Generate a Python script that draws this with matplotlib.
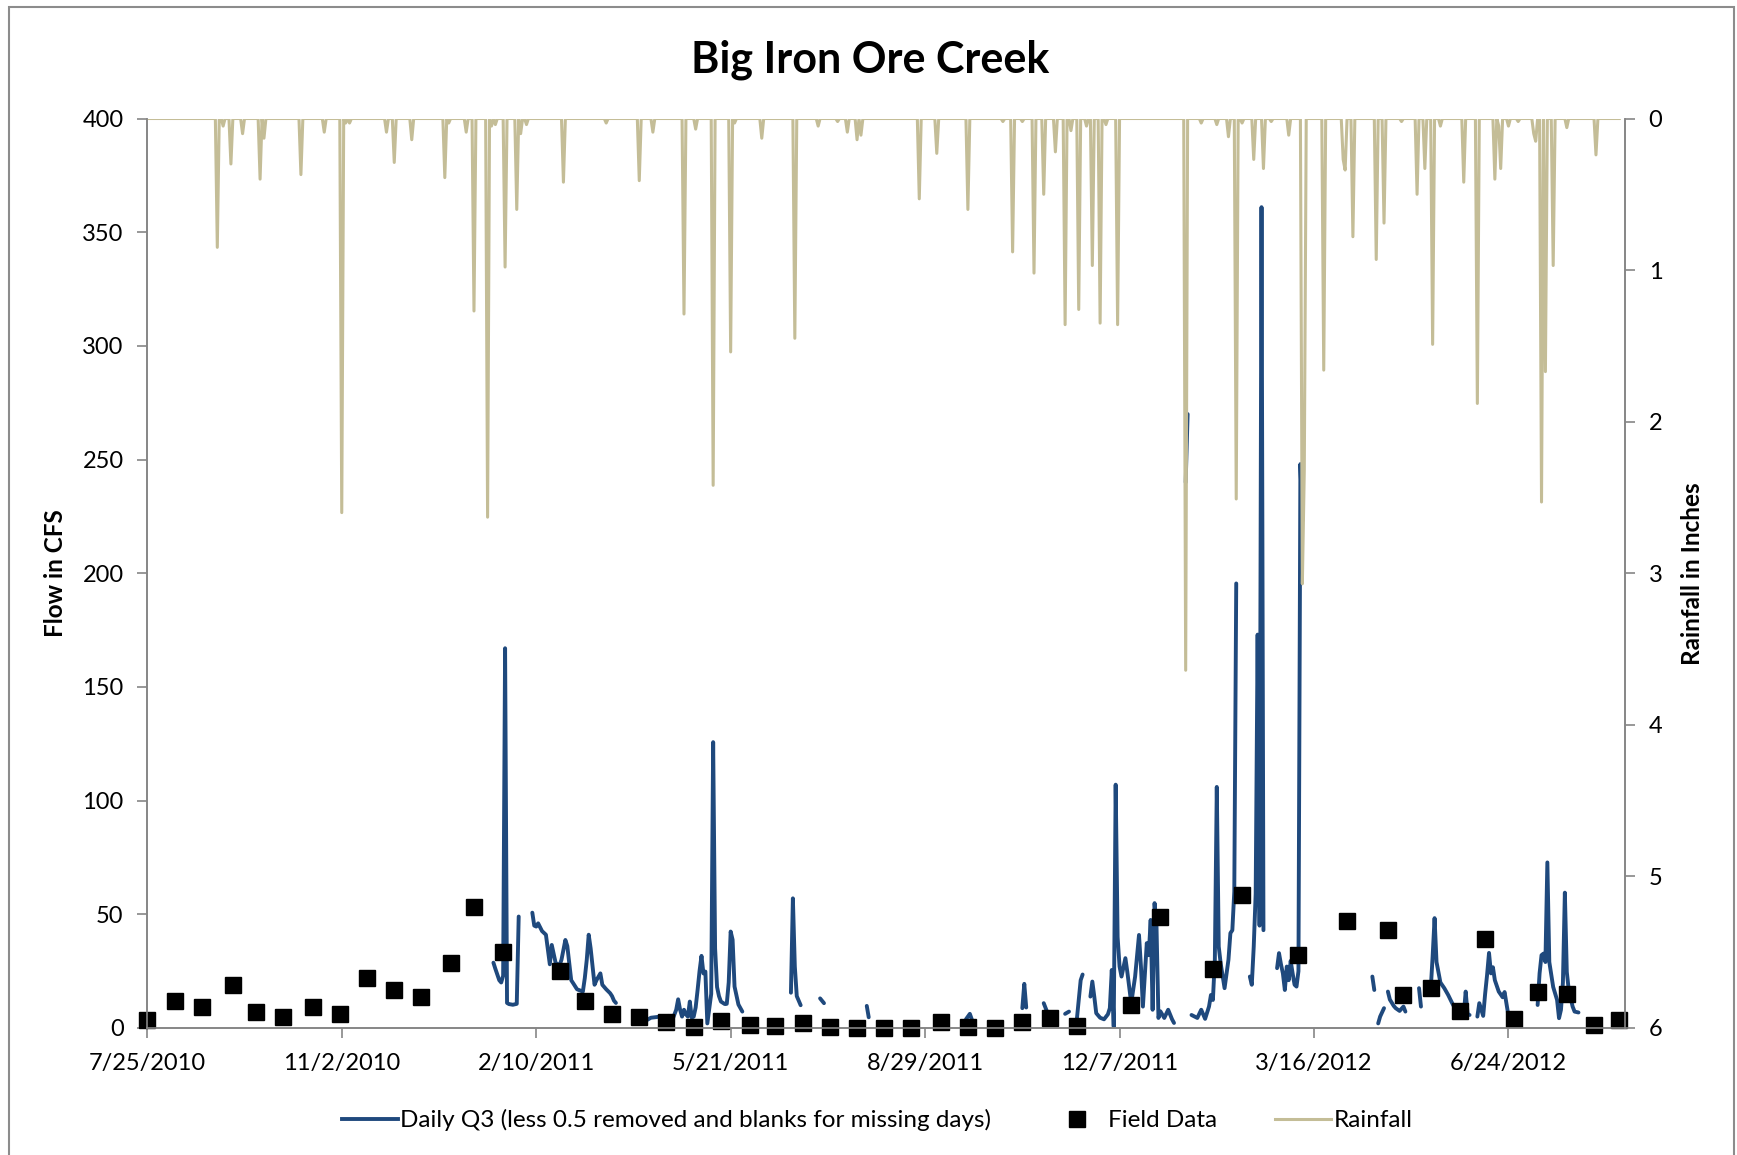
import numpy as np
import pandas as pd
import matplotlib
matplotlib.use('Agg')
import matplotlib.pyplot as plt
from matplotlib.lines import Line2D
from matplotlib.patches import Rectangle

plt.rcParams['font.family'] = ['Lato', 'DejaVu Sans']

start = pd.Timestamp('2010-07-25')
x_end = pd.Timestamp('2012-08-23')
xtick_labels = ['7/25/2010', '11/2/2010', '2/10/2011', '5/21/2011',
                '8/29/2011', '12/7/2011', '3/16/2012', '6/24/2012']
flow_ticks = [0, 50, 100, 150, 200, 250, 300, 350, 400]
rain_ticks = [0, 1, 2, 3, 4, 5, 6]

# daily Q3, days since 7/25/2010; None = blank (missing days)
flow_days = [
    178, 179, 181, 182, 183, 184, 185, 186, 188, 190, 191, None,
    198, 199, 200, 201, 203, 205, 207, 208, 210, 212, 213, 215, 216, 218, 219,
    221, 224, 225, 226, 227, 228, 229, 230, 231, 233, 234, 236, 238, 239, 240, 241, None,
    257, 259, 261, 264, 268, 270, 272, 273, 274, 275, 276, 277, 278, 279, 280,
    281, 282, 283, 284, 285, 286, 287, 288, 290, 291, 292, 293, 294, 295, 297,
    298, 299, 300, 301, 302, 304, 306, None,
    331, 332, 333, 334, 336, None,
    346, 348, None,
    370, 371, None,
    421, 423, 424, None,
    450, 451, 452, None,
    461, 463, None,
    472, 474, None,
    478, 480, 481, None,
    485, 486, 487, 488, 490, 492, 494, 495, 496, 497, 498, 499, 500, 501, 503,
    504, 506, 508, 510, 511, 512, 514, 515, 516, 517, 518, 519, 520, 521, 523,
    525, 527, 528, None,
    534, 535, None,
    537, 540, 542, 544, 546, 547, 548, 549, 550, 551, 552, 554, 556, 557, 558,
    559, 560, None,
    567, 568, 569, 570, 571, 572, 573, 574, None,
    581, 582, 583, 584, 585, 586, 587, 588, 589, 590, 591, 592, 593, 594, None,
    630, 631, None,
    633, 634, 636, None,
    638, 639, 641, 642, 644, 646, 647, None,
    654, 655, None,
    659, 660, 661, 662, 663, 665, 667, 669, 671, 672, 674, 676, 677, 678, 679, 680, None,
    684, 685, 687, 688, 689, 690, 691, 692, 693, 695, 697, 698, 700, None,
    715, 716, 717, 718, 719, 720, 721, 723, 725, 726, 727, 728, 729, 730, 731,
    733, 734, 736,
]
flow_cfs = [
    28.7, 26, 21, 20, 23, 167, 11, 10.5, 10.2, 10.6, 49, None,
    50.7, 45, 44.6, 46, 42.6, 41, 28, 36.5, 28.6, 27.5, 30, 38.7, 36, 21, 19.7,
    17, 16, 22, 30, 41, 35, 27, 19, 21, 24, 19, 17, 15.3, 14, 12, 11, None,
    3.5, 4.5, 4.7, 5, 5.3, 3.5, 8, 12.6, 8, 5, 8, 6, 5, 11.6, 4.5,
    5, 9, 16.7, 25, 31.7, 24, 24.8, 2, 15, 125.7, 35, 18, 14, 11.6, 10.5,
    10.6, 20, 42.4, 38.8, 18.2, 10.3, 7.2, None,
    15.5, 57, 27, 14, 10, None,
    13, 10.9, None,
    9.7, 4.7, None,
    3.8, 6.2, 3.8, None,
    8.7, 19.4, 9, None,
    10.9, 6.5, None,
    6.2, 7.2, None,
    3.5, 21, 23.5, None,
    13.8, 20.4, 13.8, 6.5, 4.5, 3.8, 6, 8.7, 25.5, 0.6, 107, 40, 27, 22.6, 30.7,
    24.6, 10.9, 22.6, 40.9, 27, 9.4, 37.3, 32, 47.5, 8, 54.9, 44.6, 4.4, 7.3, 4.4,
    8, 3.8, 2.2, None,
    240, 270, None,
    5.7, 4.4, 8, 4, 9.4, 14.5, 12.3, 30, 106, 35.8, 28.4, 17.5, 30, 41.7, 43,
    60, 195.5, None,
    22.6, 19, 35.8, 59, 173, 45, 361, 43, None,
    26.3, 32.9, 28, 24, 16.7, 27, 21, 29.5, 24, 19, 18.2, 25, 248, 223, None,
    22.6, 16.7, None,
    2, 5, 8.7, None,
    16, 12.5, 9.7, 8.7, 7.5, 9.4, 7.2, None,
    17.5, 9.4, None,
    15, 16.7, 31.4, 48.3, 29, 20, 17.5, 14.5, 11, 9.4, 10, 6, 5.7, 16, 6, 5.7, None,
    5, 10.9, 5.3, 15, 23.3, 33, 24, 26.7, 21, 16, 13.5, 15.8, 5.3, None,
    10.1, 24, 32, 32.7, 29, 72.8, 29, 18, 12.3, 4.3, 8, 20, 59.5, 24.6, 16.7,
    9.4, 7.2, 6.8,
]

field_days = [0, 14, 28, 44, 56, 70, 85, 99, 113, 127,
              141, 156, 168, 183, 212, 225, 239, 253, 267, 281,
              295, 310, 323, 337, 351, 365, 379, 393, 408, 422,
              436, 450, 464, 478, 506, 521, 548, 563, 592, 617,
              638, 646, 660, 675, 688, 703, 715, 730, 744, 757]
field_cfs = [3.4, 12, 9, 19, 7, 5, 9, 6, 22, 16.5,
             13.6, 28.7, 53, 33.6, 25, 11.7, 6, 5, 2.4, 0.5,
             3, 1.5, 1, 2, 0.5, 0, 0, 0, 2.4, 0.5,
             0, 2.4, 4.4, 1, 10, 48.7, 26, 58.5, 32, 47,
             43, 14.6, 17.5, 7.3, 39, 3.9, 16, 15, 1.5, 3.4]

# daily rainfall record runs to day 757; days not listed had no rain
rain_last_day = 757
rain_days = [36, 39, 43, 49, 58, 60, 79, 91, 100, 102,
             104, 123, 127, 136, 153, 155, 164, 168, 175, 177,
             179, 184, 190, 192, 195, 214, 236, 253, 260, 276,
             282, 291, 300, 302, 316, 333, 345, 355, 360, 365,
             367, 397, 406, 422, 440, 445, 450, 456, 461, 467,
             472, 475, 479, 483, 486, 490, 493, 499, 534, 542,
             550, 556, 560, 563, 569, 574, 578, 587, 594, 595,
             605, 615, 616, 620, 632, 636, 645, 653, 657, 661,
             665, 677, 684, 693, 695, 696, 700, 705, 713, 714,
             717, 719, 723, 730, 745]
rain_in = [0.85, 0.05, 0.30, 0.10, 0.40, 0.13, 0.37, 0.09, 2.60, 0.03,
           0.03, 0.09, 0.29, 0.14, 0.39, 0.03, 0.09, 1.27, 2.63, 0.05,
           0.04, 0.98, 0.60, 0.10, 0.04, 0.42, 0.03, 0.41, 0.09, 1.29,
           0.07, 2.42, 1.54, 0.03, 0.13, 1.45, 0.05, 0.02, 0.09, 0.14,
           0.11, 0.53, 0.23, 0.60, 0.02, 0.88, 0.02, 1.02, 0.50, 0.22,
           1.36, 0.08, 1.26, 0.05, 0.97, 1.35, 0.04, 1.36, 3.64, 0.03,
           0.04, 0.12, 2.51, 0.03, 0.27, 0.33, 0.02, 0.11, 3.07, 2.32,
           1.66, 0.27, 0.34, 0.78, 0.93, 0.69, 0.02, 0.50, 0.33, 1.49,
           0.05, 0.42, 1.88, 0.40, 0.05, 0.33, 0.05, 0.02, 0.10, 0.15,
           2.53, 1.67, 0.97, 0.06, 0.24]

BLUE = '#1F497D'
TAN = '#C4BD97'
AXIS = '#868686'


def to_dates(days):
    return start + pd.to_timedelta(np.asarray(days, dtype=float), unit='D')


# build plotting arrays (None -> break in the line)
fd, fq = [], []
last = flow_days[0]
for d, q in zip(flow_days, flow_cfs):
    if d is None:
        fd.append(last)
        fq.append(np.nan)
    else:
        fd.append(d)
        fq.append(q)
        last = d
flow_x = to_dates(fd)
flow_y = np.array(fq, dtype=float)

rain_all = np.zeros(rain_last_day + 1)
rain_all[rain_days] = rain_in
rain_x = to_dates(np.arange(rain_last_day + 1))

fig = plt.figure(figsize=(17.37, 11.55), dpi=100)
ax = fig.add_axes([0.0848, 0.110, 0.8508, 0.7874])
ax2 = ax.twinx()

ax.plot(flow_x, flow_y, color=BLUE, lw=2.8, solid_capstyle='round')
ax.plot(to_dates(field_days), field_cfs, 's', color='black', ms=12,
        clip_on=False, zorder=5)
ax2.plot(rain_x, rain_all, color=TAN, lw=2.2)

ax.set_xlim(start, x_end)
ax.set_ylim(0, 400)
ax2.set_ylim(6, 0)

xt = pd.to_datetime(xtick_labels, format='%m/%d/%Y')
ax.set_xticks(xt)
ax.set_xticklabels(xtick_labels)
ax.set_yticks(flow_ticks)
ax.set_yticklabels([str(v) for v in flow_ticks])
ax2.set_yticks(rain_ticks)
ax2.set_yticklabels([str(v) for v in rain_ticks])

for a in (ax, ax2):
    for s in a.spines.values():
        s.set_color(AXIS)
        s.set_linewidth(1.2)
    a.spines['top'].set_visible(False)
    a.tick_params(colors=AXIS, labelcolor='black', labelsize=17, width=1.2)
ax.tick_params(axis='y', length=7, pad=10)
ax.tick_params(axis='x', length=7, pad=11)
ax2.tick_params(axis='y', length=7, pad=10)

ax.set_ylabel('Flow in CFS', fontsize=17.5, fontweight='bold')
ax.yaxis.set_label_coords(-0.054, 0.5)
ax2.set_ylabel('Rainfall in Inches', fontsize=17.5, fontweight='bold',
               rotation=90)
ax2.yaxis.set_label_coords(1.038, 0.5)

fig.text(0.501, 0.948, 'Big Iron Ore Creek', ha='center', va='center',
         fontsize=31, fontweight='bold')

handles = [
    Line2D([], [], color=BLUE, lw=2.8),
    Line2D([], [], ls='none', marker='s', color='black', ms=12),
    Line2D([], [], color=TAN, lw=2.2),
]
labels = ['Daily Q3 (less 0.5 removed and blanks for missing days)',
          'Field Data', 'Rainfall']
fig.legend(handles, labels, loc='center', bbox_to_anchor=(0.505, 0.030),
           ncol=3, frameon=False, fontsize=17.5, handlelength=2.3,
           handletextpad=0.1, columnspacing=2.4)

fig.add_artist(Rectangle((9 / 1737, -0.01), (1734 - 9) / 1737, 1.0043,
                         transform=fig.transFigure, fill=False,
                         edgecolor='#8c8c8c', lw=1.5))

fig.savefig('out.png', dpi=100)
